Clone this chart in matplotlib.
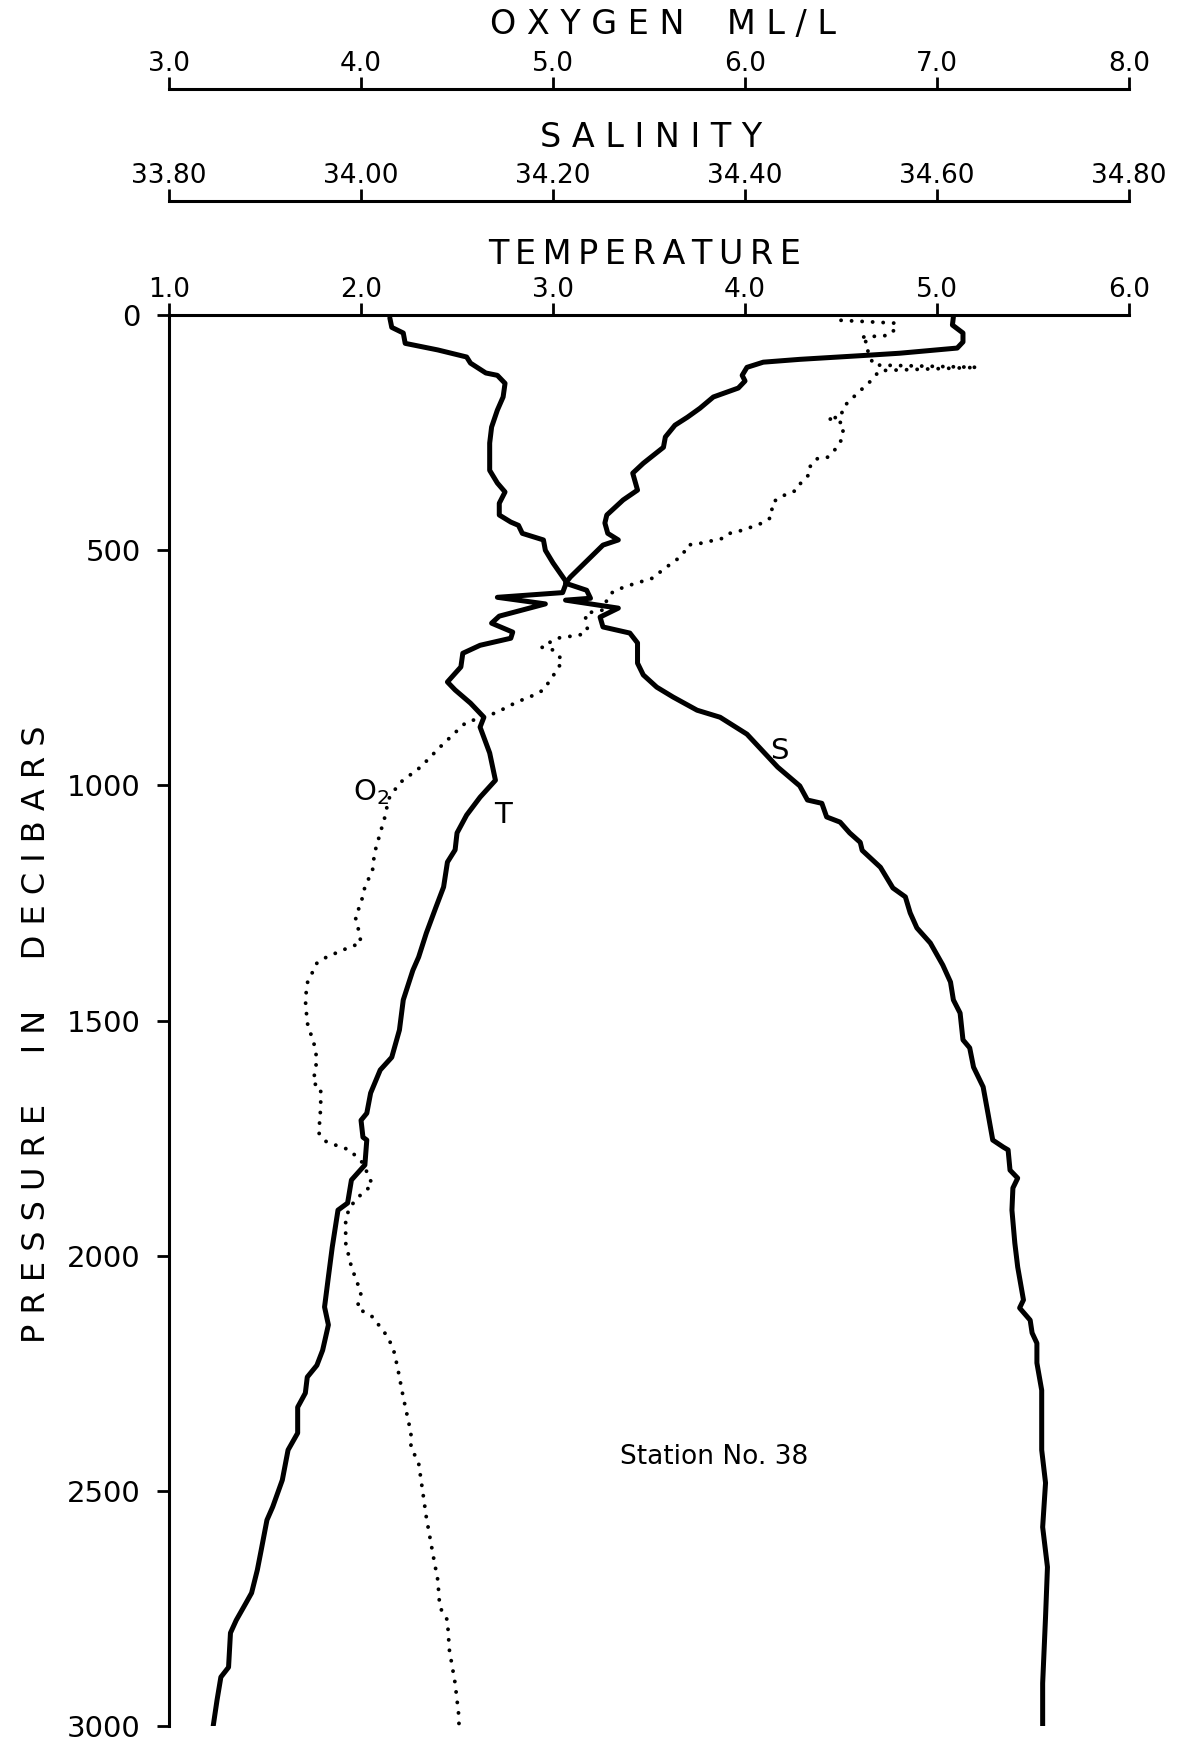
import matplotlib
matplotlib.use("Agg")
import matplotlib.pyplot as plt

# Station 38 profile: temperature (deg C), salinity and oxygen (ml/l) against pressure (dbar)
temp_pres = [6, 26, 38, 60, 74, 89, 102, 123, 128, 145,
             174, 202, 238, 272, 330, 357, 376, 400, 425, 440,
             447, 464, 478, 500, 527, 568, 590, 600, 614, 640,
             655, 674, 687, 702, 719, 748, 780, 797, 825, 855,
             876, 931, 989, 1025, 1063, 1101, 1137, 1163, 1216, 1259,
             1314, 1365, 1393, 1456, 1520, 1578, 1605, 1654, 1697, 1712,
             1748, 1754, 1807, 1839, 1888, 1903, 1982, 2045, 2109, 2147,
             2201, 2233, 2258, 2292, 2322, 2377, 2413, 2477, 2534, 2562,
             2626, 2668, 2717, 2739, 2775, 2802, 2875, 2896, 2945, 3000]
temp = [2.15, 2.16, 2.22, 2.23, 2.40, 2.55, 2.57, 2.65, 2.71, 2.75,
        2.74, 2.71, 2.68, 2.67, 2.67, 2.71, 2.75, 2.72, 2.72, 2.78,
        2.82, 2.84, 2.95, 2.96, 3.00, 3.07, 3.05, 2.71, 2.96, 2.72,
        2.68, 2.79, 2.78, 2.62, 2.53, 2.52, 2.45, 2.49, 2.57, 2.64,
        2.62, 2.67, 2.70, 2.62, 2.55, 2.50, 2.49, 2.45, 2.43, 2.39,
        2.34, 2.30, 2.27, 2.22, 2.20, 2.16, 2.10, 2.05, 2.03, 2.00,
        2.01, 2.03, 2.02, 1.95, 1.93, 1.88, 1.85, 1.83, 1.81, 1.83,
        1.80, 1.77, 1.72, 1.71, 1.67, 1.67, 1.62, 1.59, 1.54, 1.51,
        1.48, 1.46, 1.43, 1.40, 1.35, 1.32, 1.31, 1.27, 1.25, 1.23]

sal_pres = [4, 21, 38, 57, 70, 81, 85, 94, 100, 111,
            128, 140, 155, 174, 198, 217, 234, 259, 281, 315,
            336, 372, 393, 425, 442, 464, 478, 489, 515, 557,
            570, 585, 602, 606, 623, 642, 663, 676, 697, 740,
            765, 791, 812, 840, 855, 891, 961, 1001, 1031, 1038,
            1067, 1078, 1101, 1121, 1138, 1174, 1218, 1237, 1271, 1303,
            1335, 1382, 1418, 1456, 1484, 1541, 1558, 1599, 1641, 1697,
            1754, 1769, 1775, 1818, 1835, 1856, 1903, 1973, 2024, 2094,
            2111, 2137, 2164, 2186, 2228, 2286, 2413, 2483, 2577, 2662,
            2768, 2909, 3000]
sal = [34.617, 34.616, 34.627, 34.627, 34.621, 34.561, 34.530, 34.457, 34.419, 34.402,
       34.397, 34.400, 34.393, 34.367, 34.353, 34.340, 34.327, 34.317, 34.315, 34.294,
       34.283, 34.288, 34.273, 34.256, 34.254, 34.257, 34.268, 34.252, 34.239, 34.218,
       34.213, 34.235, 34.239, 34.213, 34.268, 34.249, 34.252, 34.280, 34.288, 34.288,
       34.294, 34.308, 34.325, 34.350, 34.374, 34.402, 34.434, 34.457, 34.465, 34.480,
       34.485, 34.499, 34.509, 34.520, 34.522, 34.541, 34.554, 34.567, 34.572, 34.579,
       34.593, 34.606, 34.614, 34.617, 34.624, 34.627, 34.634, 34.638, 34.648, 34.653,
       34.658, 34.669, 34.674, 34.676, 34.684, 34.679, 34.678, 34.681, 34.684, 34.690,
       34.686, 34.697, 34.699, 34.704, 34.704, 34.709, 34.709, 34.713, 34.710, 34.715,
       34.713, 34.710, 34.710]

oxy_pres = [11, 17, 26, 43, 47, 60, 79, 106, 111, 118,
            138, 153, 176, 196, 217, 219, 230, 259, 281, 302,
            304, 319, 336, 357, 372, 387, 400, 429, 442, 457,
            464, 474, 485, 489, 506, 515, 542, 559, 578, 589,
            606, 627, 634, 648, 670, 680, 687, 706, 712, 734,
            755, 797, 808, 823, 844, 855, 865, 876, 919, 961,
            995, 1031, 1059, 1101, 1144, 1180, 1216, 1250, 1280, 1293,
            1335, 1344, 1365, 1378, 1420, 1456, 1505, 1556, 1584, 1633,
            1641, 1684, 1739, 1758, 1775, 1803, 1850, 1865, 1897, 1924,
            1973, 2024, 2079, 2111, 2130, 2173, 2201, 2237, 2301, 2377,
            2407, 2441, 2498, 2556, 2647, 2690, 2747, 2775, 2838, 2909,
            2981, 3000]
oxy = [6.50, 6.78, 6.79, 6.75, 6.60, 6.64, 6.64, 6.67, 7.21, 6.70,
       6.66, 6.62, 6.56, 6.51, 6.50, 6.43, 6.51, 6.51, 6.48, 6.43,
       6.38, 6.34, 6.34, 6.29, 6.27, 6.18, 6.14, 6.14, 6.09, 5.99,
       5.92, 5.89, 5.77, 5.70, 5.68, 5.66, 5.57, 5.52, 5.37, 5.31,
       5.28, 5.26, 5.17, 5.17, 5.18, 5.14, 5.02, 4.94, 5.00, 5.05,
       5.02, 4.95, 4.90, 4.81, 4.71, 4.64, 4.55, 4.52, 4.41, 4.31,
       4.20, 4.14, 4.13, 4.10, 4.07, 4.06, 4.02, 4.00, 3.97, 3.98,
       4.00, 3.94, 3.82, 3.77, 3.72, 3.71, 3.72, 3.76, 3.77, 3.75,
       3.79, 3.79, 3.78, 3.82, 3.94, 4.01, 4.06, 4.01, 3.94, 3.92,
       3.92, 3.95, 4.00, 3.98, 4.06, 4.14, 4.17, 4.19, 4.22, 4.26,
       4.26, 4.30, 4.32, 4.34, 4.38, 4.40, 4.41, 4.45, 4.46, 4.49,
       4.51, 4.51]

temp_ticks = [1.0, 2.0, 3.0, 4.0, 5.0, 6.0]
sal_ticks = [33.80, 34.00, 34.20, 34.40, 34.60, 34.80]
oxy_ticks = [3.0, 4.0, 5.0, 6.0, 7.0, 8.0]
pres_ticks = [0, 500, 1000, 1500, 2000, 2500, 3000]

plt.rcParams['font.family'] = ['DejaVu Sans']
LW_AX = 2.2
TICK = dict(direction='out', length=8.5, width=2.0, color='black')

fig = plt.figure(figsize=(11.92, 17.44), dpi=100)
ax = fig.add_axes([0.1418, 0.0103, 0.8054, 0.8090])
ax.set_xlim(1.0, 6.0)
ax.set_ylim(3000, 0)

# salinity and oxygen scales stacked above the frame
# (twiny moves the host ticks to the bottom, so make these first)
ax_s = ax.twiny()
ax_s.set_xlim(33.80, 34.80)
ax_s.spines['top'].set_position(('axes', 1.0808))
ax_s.set_xticks(sal_ticks)
ax_s.set_xticklabels([f"{v:.2f}" for v in sal_ticks])

ax_o = ax.twiny()
ax_o.set_xlim(3.0, 8.0)
ax_o.spines['top'].set_position(('axes', 1.160))
ax_o.set_xticks(oxy_ticks)
ax_o.set_xticklabels([f"{v:.1f}" for v in oxy_ticks])

for a in (ax_s, ax_o):
    for side in ['left', 'right', 'bottom']:
        a.spines[side].set_visible(False)
    a.spines['top'].set_linewidth(LW_AX)
    a.tick_params(axis='x', labelsize=19, pad=0.5, **TICK)

# temperature axis on the top of the frame, pressure down the left
ax.xaxis.tick_top()
ax.xaxis.set_label_position('top')
ax.set_xticks(temp_ticks)
ax.set_xticklabels([f"{v:.1f}" for v in temp_ticks])
ax.set_yticks(pres_ticks)
ax.tick_params(axis='x', labelsize=19, pad=0.5, **TICK)
ax.tick_params(axis='y', labelsize=21, pad=12, **TICK)
for side in ['right', 'bottom']:
    ax.spines[side].set_visible(False)
for side in ['left', 'top']:
    ax.spines[side].set_linewidth(LW_AX)

# profiles
ax.plot(temp, temp_pres, color='black', lw=3.6, solid_joinstyle='round', solid_capstyle='round')
ax_s.plot(sal, sal_pres, color='black', lw=3.6, solid_joinstyle='round', solid_capstyle='round')
ax_o.plot(oxy, oxy_pres, color='black', lw=2.8, linestyle=(0, (0.01, 2.7)),
          dash_capstyle='round')

# curve labels
ax.text(4.18, 927, "S", fontsize=21, ha='center', va='center')
ax.text(2.74, 1063, "T", fontsize=21, ha='center', va='center')
ax.text(2.05, 1014, "O$_2$", fontsize=21, ha='center', va='center')
ax.text(3.84, 2428, "Station No. 38", fontsize=19, ha='center', va='center')

# scale titles
fig.text(0.556, 0.986, "O X Y G E N    M L / L", fontsize=24, ha='center', va='center')
fig.text(0.546, 0.921, "S A L I N I T Y", fontsize=24, ha='center', va='center')
fig.text(0.541, 0.854, "T\u2009E\u2009M\u2009P\u2009E\u2009R\u2009A\u2009T\u2009U\u2009R\u2009E",
         fontsize=24, ha='center', va='center')
fig.text(0.031, 0.407, "P R E S S U R E     I N     D E C I B A R S", fontsize=23,
         rotation=90, ha='center', va='center')

fig.savefig("out.png", dpi=100, facecolor='white')
